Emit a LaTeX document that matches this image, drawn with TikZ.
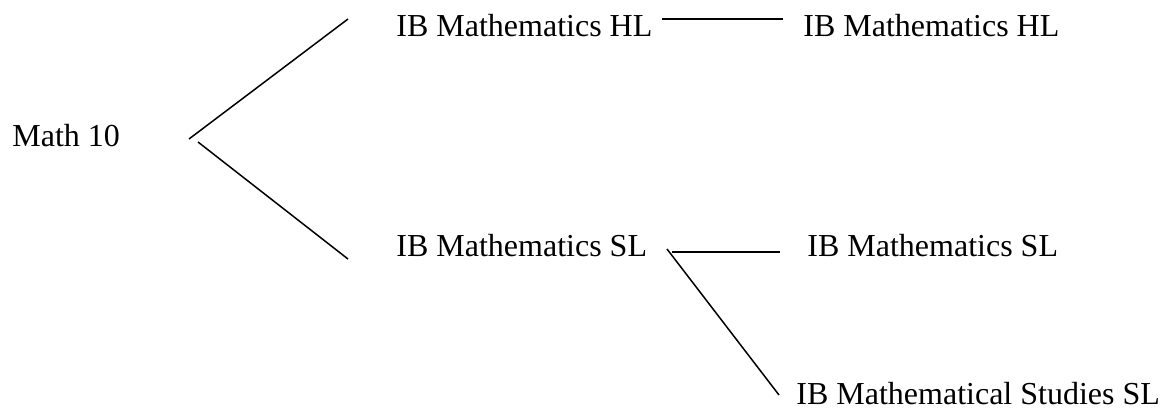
\documentclass[tikz,border=0pt]{standalone}
\usepackage{fontspec}
\setmainfont{Liberation Serif}
\tikzset{
  course/.style={anchor=base west, inner sep=0, font=\fontsize{16}{19}\selectfont},
  branch/.style={black, line width=0.75pt},
}

\begin{document}
\begin{tikzpicture}[x=0.5pt, y=-0.5pt]
  \useasboundingbox (0,0) rectangle (1164,408);

  % ---- courses, one node per box of text
  \node[course] (math) at (12,146)  {Math 10};
  \node[course] (hlA)  at (396,36)  {IB Mathematics HL};
  \node[course] (hlB)  at (803,36)  {IB Mathematics HL};
  \node[course] (slA)  at (396,256) {IB Mathematics SL};
  \node[course] (slB)  at (807,256) {IB Mathematics SL};
  \node[course] (stud) at (796,404) {IB Mathematical Studies SL};

  % ---- branches from Math 10
  \draw[branch] ([shift={(177,-7)}]math.base west) -- ([shift={(-48,-17)}]hlA.base west);
  \draw[branch] ([shift={(186,-4)}]math.base west) -- ([shift={(-48,3)}]slA.base west);

  % ---- branches into the second year
  \draw[branch] ([shift={(266,-17)}]hlA.base west) -- ([shift={(-20,-17)}]hlB.base west);
  \draw[branch] ([shift={(276,-4)}]slA.base west)  -- ([shift={(-27,-4)}]slB.base west);
  \draw[branch] ([shift={(271,-7)}]slA.base west)  -- ([shift={(-17,-9)}]stud.base west);

\end{tikzpicture}
\end{document}
